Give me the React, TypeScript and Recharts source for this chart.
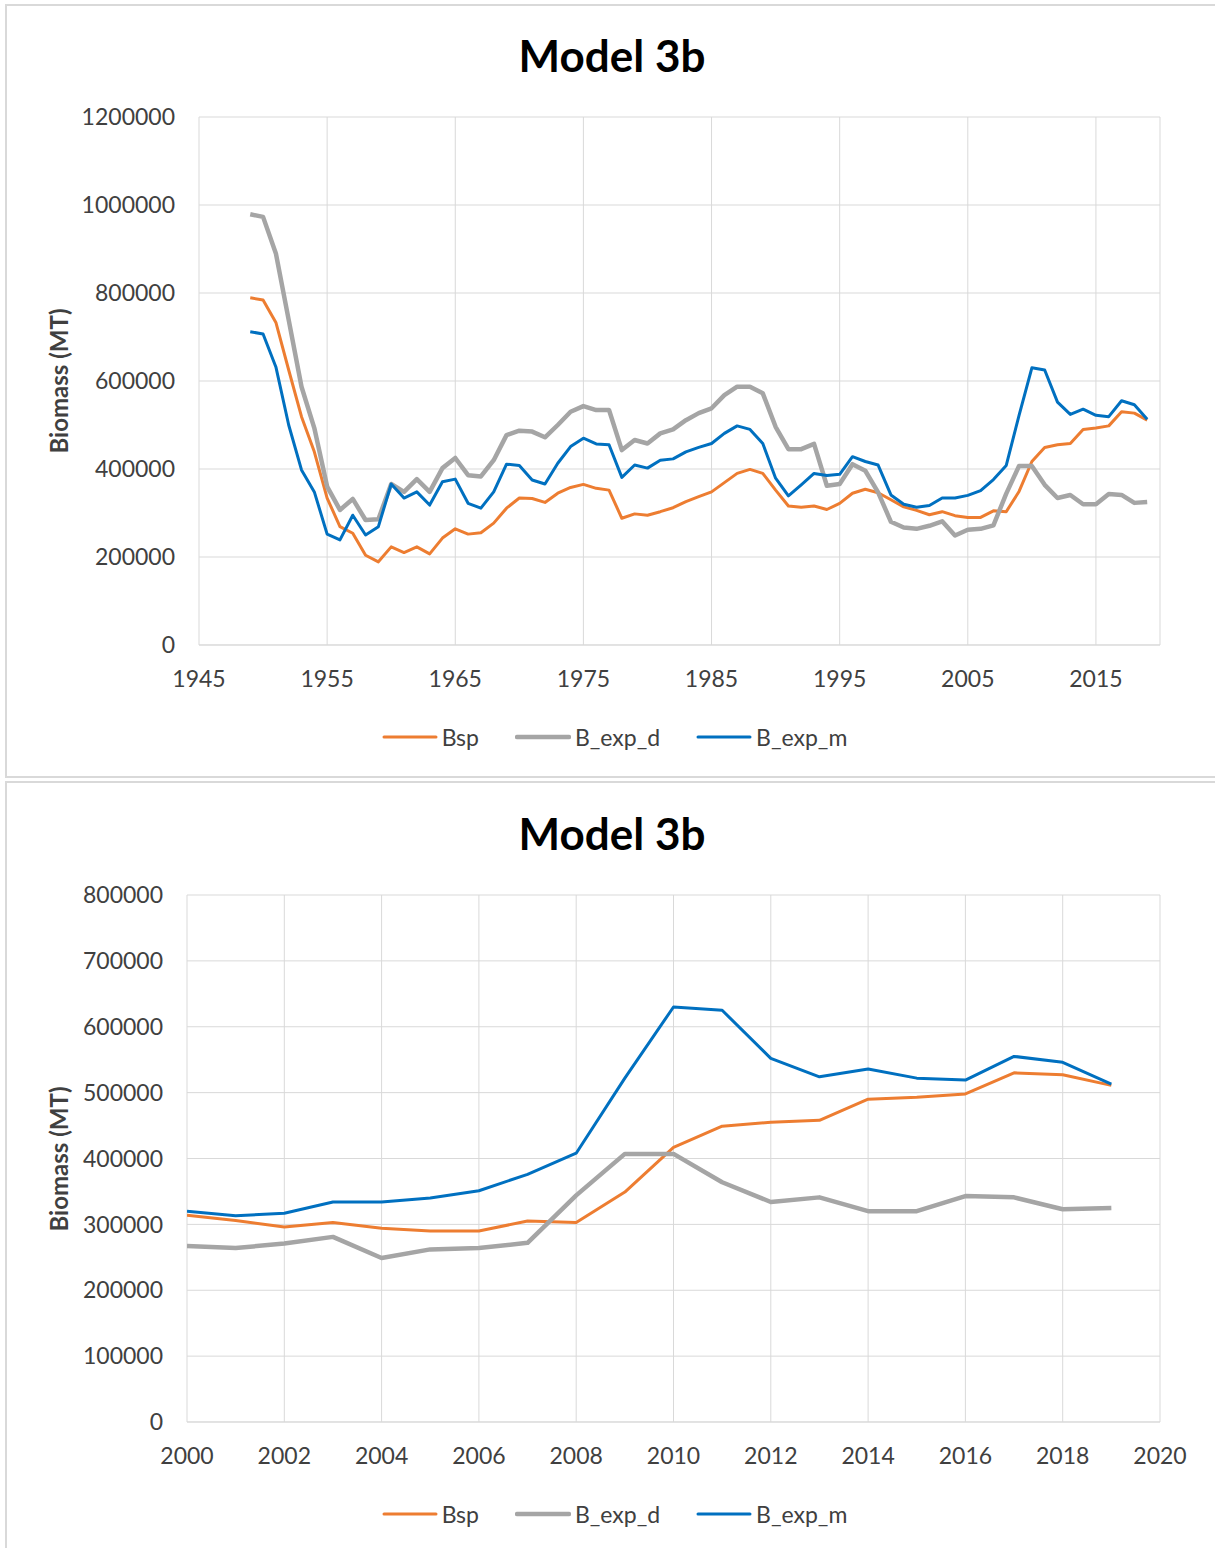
import { LineChart, Line, XAxis, YAxis, CartesianGrid, Legend } from 'recharts';

const YEARS = [
  1949, 1950, 1951, 1952, 1953, 1954, 1955, 1956, 1957, 1958,
  1959, 1960, 1961, 1962, 1963, 1964, 1965, 1966, 1967, 1968,
  1969, 1970, 1971, 1972, 1973, 1974, 1975, 1976, 1977, 1978,
  1979, 1980, 1981, 1982, 1983, 1984, 1985, 1986, 1987, 1988,
  1989, 1990, 1991, 1992, 1993, 1994, 1995, 1996, 1997, 1998,
  1999, 2000, 2001, 2002, 2003, 2004, 2005, 2006, 2007, 2008,
  2009, 2010, 2011, 2012, 2013, 2014, 2015, 2016, 2017, 2018,
  2019,
];

const BSP = [
  789000, 784000, 733000, 625000, 519000, 439000, 334000, 269000, 254000, 204000,
  189000, 223000, 210000, 223000, 207000, 243000, 264000, 252000, 255000, 277000,
  311000, 334000, 333000, 324000, 345000, 358000, 365000, 356000, 352000, 288000,
  298000, 295000, 303000, 312000, 326000, 337000, 348000, 369000, 390000, 399000,
  390000, 352000, 316000, 313000, 316000, 308000, 322000, 345000, 354000, 346000,
  330000, 314000, 306000, 296000, 303000, 294000, 290000, 290000, 305000, 303000,
  349000, 417000, 449000, 455000, 458000, 490000, 493000, 498000, 530000, 527000,
  511000,
];

const B_EXP_D = [
  979000, 973000, 890000, 739000, 587000, 493000, 360000, 307000, 332000, 284000,
  286000, 366000, 348000, 377000, 348000, 402000, 425000, 386000, 383000, 420000,
  477000, 487000, 485000, 472000, 500000, 530000, 543000, 534000, 534000, 443000,
  466000, 458000, 481000, 490000, 511000, 527000, 538000, 568000, 587000, 587000,
  572000, 496000, 445000, 445000, 457000, 362000, 366000, 411000, 396000, 347000,
  280000, 267000, 264000, 271000, 281000, 249000, 262000, 264000, 272000, 344000,
  407000, 407000, 364000, 334000, 341000, 320000, 320000, 343000, 341000, 323000,
  325000,
];

const B_EXP_M = [
  712000, 707000, 632000, 500000, 398000, 348000, 252000, 239000, 295000, 250000,
  269000, 366000, 334000, 348000, 318000, 371000, 377000, 322000, 311000, 348000,
  411000, 408000, 375000, 366000, 413000, 451000, 470000, 457000, 455000, 381000,
  409000, 402000, 420000, 423000, 439000, 449000, 458000, 481000, 498000, 490000,
  458000, 379000, 339000, 364000, 390000, 385000, 388000, 428000, 417000, 409000,
  341000, 320000, 313000, 317000, 334000, 334000, 340000, 351000, 376000, 408000,
  522000, 630000, 625000, 552000, 524000, 536000, 522000, 519000, 555000, 546000,
  513000,
];

const TOP_X_TICKS = [1945, 1955, 1965, 1975, 1985, 1995, 2005, 2015];
const TOP_Y_TICKS = [0, 200000, 400000, 600000, 800000, 1000000, 1200000];
const ZOOM_X_TICKS = [2000, 2002, 2004, 2006, 2008, 2010, 2012, 2014, 2016, 2018, 2020];
const ZOOM_Y_TICKS = [0, 100000, 200000, 300000, 400000, 500000, 600000, 700000, 800000];

const SERIES = [
  { key: 'bsp', name: 'Bsp', color: '#ED7D31', width: 3 },
  { key: 'expD', name: 'B_exp_d', color: '#A5A5A5', width: 4.5 },
  { key: 'expM', name: 'B_exp_m', color: '#0070C0', width: 3 },
];

const FONT = 'Lato, "Open Sans", sans-serif';
const TEXT = '#404040';
const GRID = '#d9d9d9';
const W = 1215;

const rows = YEARS.map((year, i) => ({
  year,
  bsp: BSP[i],
  expD: B_EXP_D[i],
  expM: B_EXP_M[i],
}));

interface PanelProps {
  top: number;
  height: number;
  frameHeight: number;
  data: typeof rows;
  xDomain: [number, number];
  xTicks: number[];
  yTicks: number[];
  plotLeft: number;
  plotTop: number;
  plotBottom: number;
  plotRight: number;
  legendMid: number;
  titleBaseline: number;
}

// keep the Excel series order (recharts sorts legend items by name otherwise)
function renderLegend() {
  return (
    <div
      style={{
        display: 'flex',
        justifyContent: 'center',
        alignItems: 'center',
        height: 30,
        gap: 36,
        paddingLeft: 14,
        fontFamily: FONT,
        fontSize: 23,
        color: TEXT,
      }}
    >
      {SERIES.map(s => (
        <div key={s.key} style={{ display: 'flex', alignItems: 'center', gap: 4 }}>
          <svg width={56} height={10}>
            <line x1={2} y1={5} x2={54} y2={5} stroke={s.color} strokeWidth={s.width} strokeLinecap="round" />
          </svg>
          <span>{s.name}</span>
        </div>
      ))}
    </div>
  );
}

function Panel(p: PanelProps) {
  const xAxisHeight = p.legendMid - 15 - p.plotBottom;
  const bottomMargin = p.height - (p.legendMid + 15);
  return (
    <>
      {/* panel frame, runs off the edges like the screenshot */}
      <div
        style={{
          position: 'absolute',
          left: 5,
          top: p.top,
          width: W + 10,
          height: p.frameHeight,
          border: `2px solid ${GRID}`,
          boxSizing: 'border-box',
        }}
      />
      <div
        style={{
          position: 'absolute',
          left: 0,
          top: p.top + p.titleBaseline - 39,
          width: 1224,
          textAlign: 'center',
          fontFamily: FONT,
          fontWeight: 700,
          fontSize: 44,
          lineHeight: '44px',
          color: '#000',
        }}
      >
        Model 3b
      </div>
      <div
        style={{
          position: 'absolute',
          left: 58,
          top: p.top + (p.plotTop + p.plotBottom) / 2,
          transform: 'translate(-50%, -50%) rotate(-90deg)',
          whiteSpace: 'nowrap',
          fontFamily: FONT,
          fontWeight: 700,
          fontSize: 24,
          color: TEXT,
        }}
      >
        Biomass (MT)
      </div>
      <div style={{ position: 'absolute', left: 0, top: p.top }}>
        <LineChart
          width={W}
          height={p.height}
          data={p.data}
          margin={{ top: p.plotTop, right: W - p.plotRight, left: 0, bottom: bottomMargin }}
        >
          <CartesianGrid stroke={GRID} strokeWidth={1} />
          <XAxis
            dataKey="year"
            type="number"
            domain={p.xDomain}
            ticks={p.xTicks}
            allowDataOverflow
            height={xAxisHeight}
            tickSize={0}
            tickMargin={26}
            tickLine={false}
            axisLine={{ stroke: GRID }}
            tick={{ fill: TEXT, fontSize: 23, fontFamily: FONT }}
          />
          <YAxis
            type="number"
            domain={[p.yTicks[0], p.yTicks[p.yTicks.length - 1]]}
            ticks={p.yTicks}
            width={p.plotLeft}
            tickSize={0}
            tickMargin={24}
            tickLine={false}
            axisLine={false}
            tick={{ fill: TEXT, fontSize: 23, fontFamily: FONT }}
          />
          <Legend
            verticalAlign="bottom"
            content={renderLegend}
            wrapperStyle={{ left: 0, width: W, top: p.legendMid - 15, bottom: 'auto' }}
          />
          {SERIES.map(s => (
            <Line
              key={s.key}
              type="linear"
              dataKey={s.key}
              name={s.name}
              stroke={s.color}
              strokeWidth={s.width}
              strokeLinejoin="round"
              dot={false}
              activeDot={false}
              isAnimationActive={false}
            />
          ))}
        </LineChart>
      </div>
    </>
  );
}

export default function App() {
  const recent = rows.filter(r => r.year >= 2000);
  return (
    <div style={{ position: 'relative', width: W, height: 1548, overflow: 'hidden', background: '#fff' }}>
      <style>{'body{margin:0}'}</style>
      <Panel
        top={4}
        height={777}
        frameHeight={774}
        data={rows}
        xDomain={[1945, 2020]}
        xTicks={TOP_X_TICKS}
        yTicks={TOP_Y_TICKS}
        plotLeft={199}
        plotTop={113}
        plotBottom={641}
        plotRight={1160}
        legendMid={733}
        titleBaseline={68}
      />
      <Panel
        top={781}
        height={770}
        frameHeight={800}
        data={recent}
        xDomain={[2000, 2020]}
        xTicks={ZOOM_X_TICKS}
        yTicks={ZOOM_Y_TICKS}
        plotLeft={187}
        plotTop={114}
        plotBottom={641}
        plotRight={1160}
        legendMid={733}
        titleBaseline={69}
      />
    </div>
  );
}
